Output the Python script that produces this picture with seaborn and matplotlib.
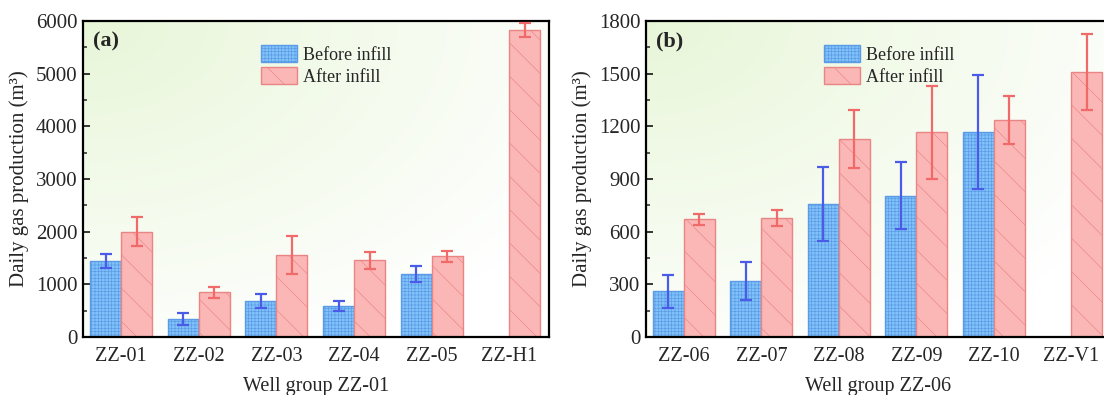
import numpy as np
import pandas as pd
import matplotlib
matplotlib.use("Agg")
import matplotlib.pyplot as plt
import seaborn as sns
from matplotlib.patches import Patch
from matplotlib.ticker import MultipleLocator, AutoMinorLocator

# ---------------- data ----------------
wells_a = ["ZZ-01", "ZZ-02", "ZZ-03", "ZZ-04", "ZZ-05", "ZZ-H1"]
before_a = [1445, 340, 690, 595, 1205, np.nan]
before_a_err = [127, 110, 133, 95, 152, np.nan]
after_a = [2000, 845, 1560, 1455, 1530, 5830]
after_a_err = [280, 95, 358, 168, 110, 135]

wells_b = ["ZZ-06", "ZZ-07", "ZZ-08", "ZZ-09", "ZZ-10", "ZZ-V1"]
before_b = [260, 317, 758, 805, 1168, np.nan]
before_b_err = [92, 108, 212, 192, 326, np.nan]
after_b = [670, 680, 1128, 1165, 1236, 1510]
after_b_err = [32, 46, 165, 265, 137, 215]

series = ["Before infill", "After infill"]
xlabels = ["Well group ZZ-01", "Well group ZZ-06"]
panel_tags = ["(a)", "(b)"]
ylims = [6000, 1800]
ysteps = [1000, 300]

# ---------------- style ----------------
sns.set_theme(style="white")
plt.rcParams["font.family"] = ["Liberation Serif", "DejaVu Serif"]
plt.rcParams["hatch.linewidth"] = 0.45

fill_cols = {"Before infill": "#7fc1f8", "After infill": "#fbb6b6"}
edge_cols = {"Before infill": "#5a9ae6", "After infill": "#ea8585"}
err_cols = {"Before infill": "#4a5be8", "After infill": "#f06a6a"}
hatches = {"Before infill": "+++++", "After infill": "\\"}

fig = plt.figure(figsize=(11.04, 3.95), dpi=100)
W, H = 1104, 395
ax_a = fig.add_axes([83 / W, (H - 337) / H, 466 / W, 316 / H])
ax_b = fig.add_axes([646 / W, (H - 337) / H, 465 / W, 316 / H])

# background gradient (light green from top-left)
gx, gy = np.meshgrid(np.linspace(0, 1, 200), np.linspace(1, 0, 200))
dist = np.sqrt((gx * 1.0) ** 2 + ((1 - gy) * 1.05) ** 2)
g = np.clip(1 - dist / 1.2, 0, 1) ** 1.0
c0 = np.array([1.0, 1.0, 1.0])
c1 = np.array([232, 246, 216]) / 255
img = c0[None, None, :] * (1 - g[..., None]) + c1[None, None, :] * g[..., None]


def draw(ax, wells, before, berr, after, aerr, xlabel, tag, ymax, ystep):
    ax.imshow(img, extent=[0, 1, 0, 1], transform=ax.transAxes,
              aspect="auto", zorder=0, origin="upper")
    df = pd.DataFrame({
        "well": wells * 2,
        "series": [series[0]] * len(wells) + [series[1]] * len(wells),
        "value": list(before) + list(after),
        "err": list(berr) + list(aerr),
    })
    dfp = df.dropna(subset=["value"])
    sns.barplot(data=dfp, x="well", y="value", hue="series", order=wells,
                hue_order=series, palette=fill_cols, errorbar=None,
                width=0.8, dodge=True, ax=ax, legend=False, zorder=2,
                linewidth=1.0, saturation=1)
    for container, s in zip(ax.containers, series):
        sub = dfp[dfp["series"] == s].set_index("well").reindex(wells).dropna(subset=["value"])
        for bar in container.patches:
            bar.set_edgecolor(edge_cols[s])
            bar.set_hatch(hatches[s])
            bar.set_linewidth(1.0)
        xs = [b.get_x() + b.get_width() / 2 for b in container.patches]
        ax.errorbar(xs[:len(sub)], sub["value"].values, yerr=sub["err"].values,
                    fmt="none", ecolor=err_cols[s], elinewidth=1.6,
                    capsize=4.5, capthick=1.6, zorder=3)
    ax.set_xlim(-0.49, 5.51)
    ax.set_ylim(0, ymax)
    ax.yaxis.set_major_locator(MultipleLocator(ystep))
    ax.yaxis.set_minor_locator(AutoMinorLocator(2))
    ax.tick_params(axis="y", which="major", direction="in", length=5, width=1.3,
                   labelsize=15, pad=4, left=True)
    ax.tick_params(axis="y", which="minor", direction="in", length=3, width=1.1, left=True)
    ax.tick_params(axis="x", length=0, labelsize=14.5, pad=7)
    for sp in ax.spines.values():
        sp.set_color("black")
        sp.set_linewidth(1.6)
    ax.set_xlabel(xlabel, fontsize=14.5, labelpad=8)
    ax.set_ylabel("Daily gas production (m³)", fontsize=15, labelpad=5)
    ax.text(0.022, 0.935, tag, transform=ax.transAxes, fontsize=16,
            fontweight="bold", va="center", ha="left", zorder=5)
    handles = [Patch(facecolor=fill_cols[s], edgecolor=edge_cols[s],
                     hatch=hatches[s], label=s) for s in series]
    ax.legend(handles=handles, loc="upper left", bbox_to_anchor=(0.355, 0.965),
              frameon=False, fontsize=13, handlelength=2.0, handleheight=1.1,
              labelspacing=0.2, handletextpad=0.35, borderpad=0.2)


draw(ax_a, wells_a, before_a, before_a_err, after_a, after_a_err,
     xlabels[0], panel_tags[0], ylims[0], ysteps[0])
draw(ax_b, wells_b, before_b, before_b_err, after_b, after_b_err,
     xlabels[1], panel_tags[1], ylims[1], ysteps[1])

fig.savefig("out.png", dpi=100)
